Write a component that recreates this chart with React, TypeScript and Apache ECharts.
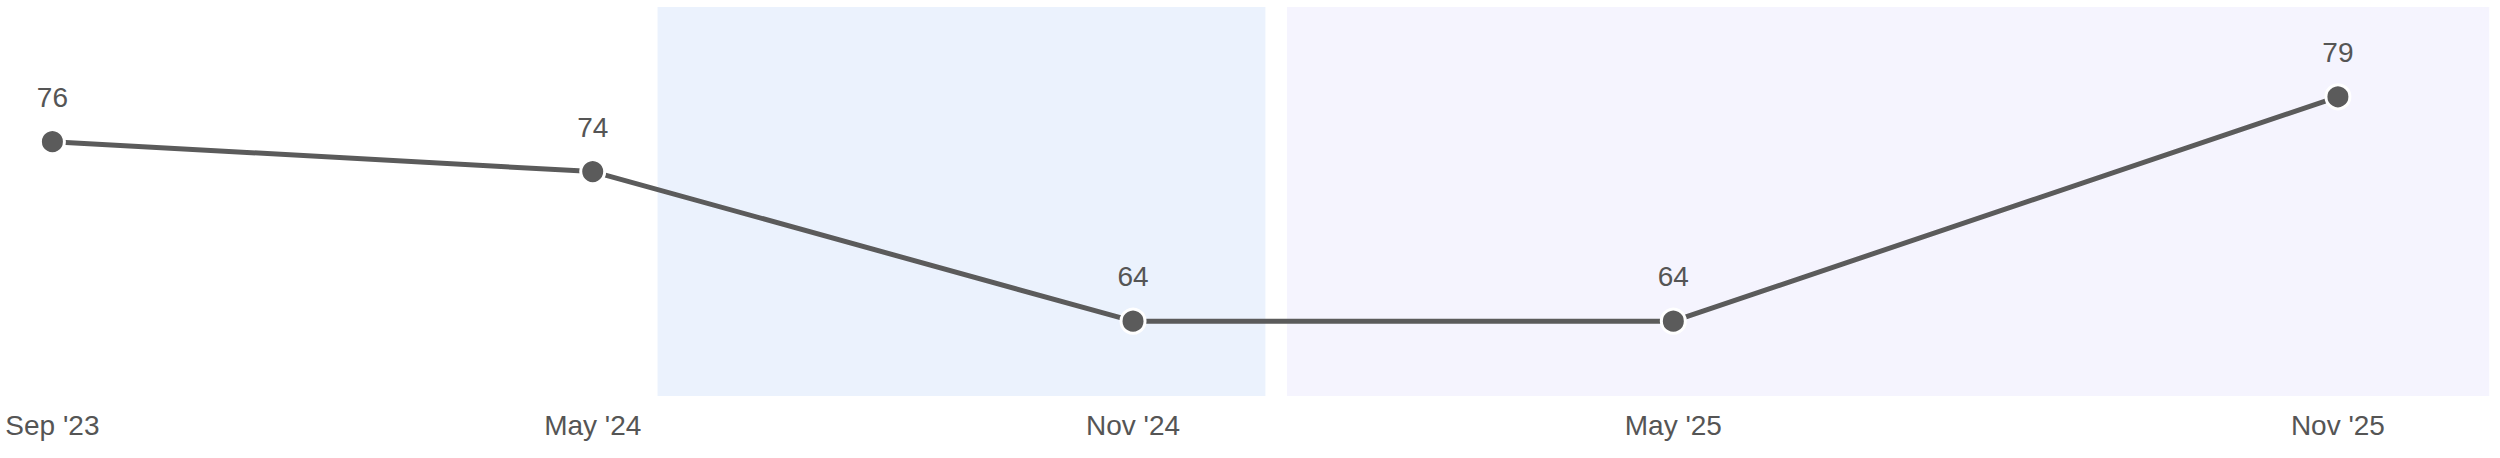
import { useEffect, useRef } from 'react';
import * as echarts from 'echarts';

// survey waves, shown along the x axis
const periods = ["Sep '23", "May '24", "Nov '24", "May '25", "Nov '25"];
// where each wave sits on the x scale (the last one is spaced wider)
const wavePositions = [0, 1, 2, 3, 4.23];
const scores = [76, 74, 64, 64, 79];

// shaded periods behind the line
const blueBand = [1.12, 2.245];
const lavenderBand = [2.285, 4.51];

const TEXT_COLOR = '#555555';
const LINE_COLOR = '#5b5b5b';
const FONT = '"Liberation Sans", Arial, Helvetica, sans-serif';

export default function App() {
  const chartRef = useRef<HTMLDivElement>(null);

  useEffect(() => {
    if (!chartRef.current) return;
    const chart = echarts.init(chartRef.current, null, { renderer: 'svg' });

    const labelFor = (v: number) => {
      const i = wavePositions.findIndex((p) => Math.abs(p - v) < 1e-6);
      return i >= 0 ? periods[i] : '';
    };

    chart.setOption({
      animation: false,
      backgroundColor: '#ffffff',
      textStyle: { fontFamily: FONT },
      grid: { left: 0, right: 0, top: 7, bottom: 62 },
      xAxis: {
        type: 'value',
        min: -0.097,
        max: 4.53,
        axisLine: { show: false },
        axisTick: { show: false },
        splitLine: { show: false },
        axisLabel: {
          customValues: wavePositions,
          formatter: (v: number) => labelFor(v),
          color: TEXT_COLOR,
          fontSize: 28,
          fontFamily: FONT,
          margin: 15,
        },
      },
      yAxis: {
        type: 'value',
        min: 59,
        max: 85,
        show: false,
        splitLine: { show: false },
      },
      series: [
        {
          type: 'line',
          data: wavePositions.map((x, i) => [x, scores[i]]),
          lineStyle: { color: LINE_COLOR, width: 5 },
          itemStyle: { color: LINE_COLOR, borderColor: '#ffffff', borderWidth: 3 },
          symbol: 'circle',
          symbolSize: 24,
          z: 3,
          label: {
            show: true,
            position: 'top',
            distance: 17,
            color: TEXT_COLOR,
            fontSize: 28,
            fontFamily: FONT,
            formatter: (p: any) => String(p.value[1]),
          },
          markArea: {
            silent: true,
            data: [
              [
                { xAxis: blueBand[0], itemStyle: { color: '#ebf2fd' } },
                { xAxis: blueBand[1] },
              ],
              [
                { xAxis: lavenderBand[0], itemStyle: { color: '#f5f4fe' } },
                { xAxis: lavenderBand[1] },
              ],
            ],
          },
        },
      ],
    });

    return () => {
      chart.dispose();
    };
  }, []);

  return (
    <div
      ref={chartRef}
      style={{ position: 'absolute', left: 0, top: 0, width: 2500, height: 458 }}
    />
  );
}
